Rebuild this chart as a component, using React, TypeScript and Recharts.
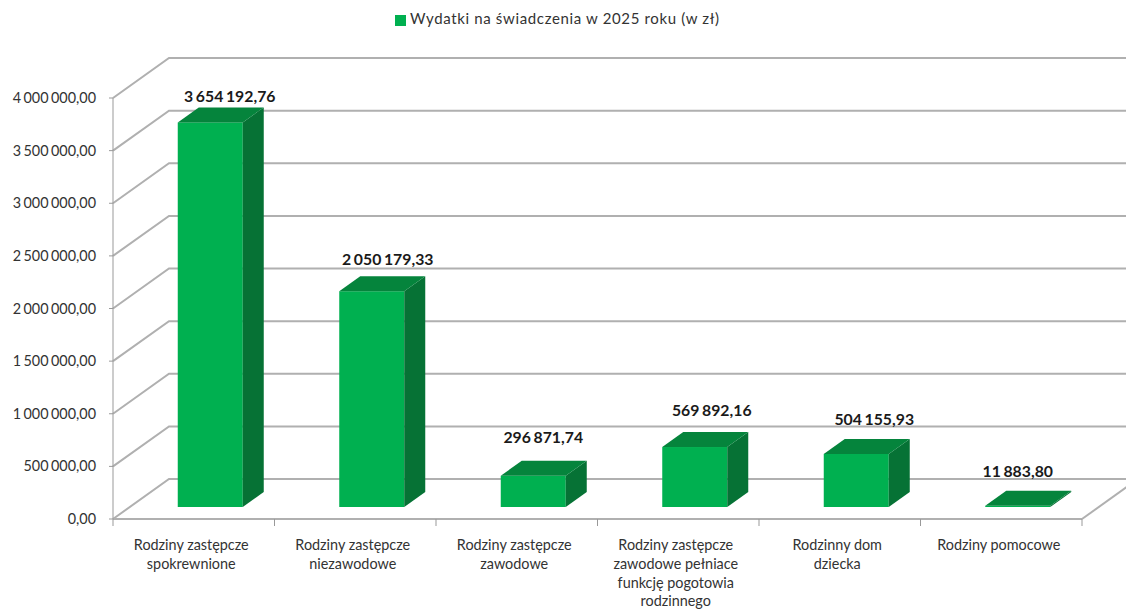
import { BarChart, Bar, XAxis, YAxis, CartesianGrid, Legend, LabelList } from "recharts";

const categories = [
  "Rodziny zastępcze\nspokrewnione",
  "Rodziny zastępcze\nniezawodowe",
  "Rodziny zastępcze\nzawodowe",
  "Rodziny zastępcze\nzawodowe pełniace\nfunkcję pogotowia\nrodzinnego",
  "Rodzinny dom\ndziecka",
  "Rodziny pomocowe",
];
const expenses = [3654192.76, 2050179.33, 296871.74, 569892.16, 504155.93, 11883.8];
const valueTicks = [0, 500000, 1000000, 1500000, 2000000, 2500000, 3000000, 3500000, 4000000];
const seriesName = "Wydatki na świadczenia w 2025 roku (w zł)";

// label placement was done by hand in the original chart
const labelShiftX = [19.5, 16, 10, 17, 18, 0];
const labelGapY = [10, 16, 23, 21, 19, 19];

const data = categories.map((name, i) => ({ name, value: expenses[i] }));

const WIDTH = 1126;
const HEIGHT = 610;
const FONT = "Lato, sans-serif";
const GRID = "#b0b0b0";
const WALL_DX = 56;
const WALL_DY = -40;
const BAR_DX = 16.75;
const BAR_DY = -12;
const DEPTH_X = 21;
const DEPTH_Y = -15;
const PLOT_BOTTOM = 519;
const STEP = 969 / categories.length;

const formatPl = (v: number) =>
  v.toFixed(2).replace(".", ",").replace(/\B(?=(\d{3})+(?!\d))/g, " ");

function WallLine({ x1, y1, x2 }: any) {
  const isFloor = Math.abs(y1 - PLOT_BOTTOM) < 1;
  return (
    <g key={y1} fill="none" stroke={GRID}>
      <polyline
        points={`${x1},${y1} ${x1 + WALL_DX},${y1 + WALL_DY} ${x2 + WALL_DX},${y1 + WALL_DY}`}
        strokeWidth={2}
      />
      {isFloor && (
        <line x1={x2} y1={y1} x2={x2 + WALL_DX} y2={y1 + WALL_DY} strokeWidth={2} />
      )}
    </g>
  );
}

function Box3D({ x, y, width, height }: any) {
  const l = x + BAR_DX;
  const r = l + width;
  const t = y + BAR_DY;
  const b = t + height;
  return (
    <g>
      <rect x={l} y={t} width={width} height={height} fill="#00b050" />
      <polygon
        points={`${r},${t} ${r + DEPTH_X},${t + DEPTH_Y} ${r + DEPTH_X},${b + DEPTH_Y} ${r},${b}`}
        fill="#067235"
      />
      <polygon
        points={`${l},${t} ${l + DEPTH_X},${t + DEPTH_Y} ${r + DEPTH_X},${t + DEPTH_Y} ${r},${t}`}
        fill="#05843c"
      />
    </g>
  );
}

function CategoryTick({ x, payload, index }: any) {
  const lines = String(payload.value).split("\n");
  const edge = x - STEP / 2;
  return (
    <g>
      <line x1={edge} y1={PLOT_BOTTOM} x2={edge} y2={PLOT_BOTTOM + 7} stroke="#999" />
      {index === categories.length - 1 && (
        <line x1={edge + STEP} y1={PLOT_BOTTOM} x2={edge + STEP} y2={PLOT_BOTTOM + 7} stroke="#999" />
      )}
      <text textAnchor="middle" fontFamily={FONT} fontSize={14.4} fill="#333">
        {lines.map((line, i) => (
          <tspan key={i} x={x - 2.5} y={550 + i * 18.8}>
            {line}
          </tspan>
        ))}
      </text>
    </g>
  );
}

function ValueLabel({ x, y, width, value, index }: any) {
  return (
    <text
      x={x + BAR_DX + width / 2 + labelShiftX[index]}
      y={y + BAR_DY + DEPTH_Y - labelGapY[index] + 5}
      textAnchor="middle"
      fontFamily={FONT}
      fontSize={15.8}
      fontWeight={700}
      wordSpacing={-1.2}
      fill="#1a1a1a"
    >
      {formatPl(Number(value))}
    </text>
  );
}

export default function App() {
  return (
    <div style={{ position: "absolute", left: 0, top: 0, width: WIDTH, height: HEIGHT, background: "#fff" }}>
      <BarChart
        width={WIDTH}
        height={HEIGHT}
        data={data}
        margin={{ top: 80, right: 44, bottom: 0, left: 0 }}
      >
        <CartesianGrid horizontal={WallLine} vertical={false} />
        <XAxis
          dataKey="name"
          height={91}
          interval={0}
          tickLine={false}
          axisLine={{ stroke: GRID, strokeWidth: 2 }}
          tick={CategoryTick}
        />
        <YAxis
          width={113}
          domain={[0, 4000000]}
          ticks={valueTicks}
          tickFormatter={formatPl}
          tickSize={4}
          tickMargin={13}
          interval={0}
          axisLine={{ stroke: "#999" }}
          tickLine={{ stroke: "#999" }}
          tick={{ fontFamily: FONT, fontSize: 14.4, fill: "#333", wordSpacing: -1.2 }}
        />
        <Legend
          verticalAlign="top"
          align="left"
          iconType="square"
          iconSize={11}
          wrapperStyle={{ position: "absolute", top: 9, left: 395, width: 345, fontFamily: FONT, fontSize: 15, color: "#333" }}
          formatter={(v: string) => <span style={{ color: "#333", letterSpacing: 0.65 }}>{v}</span>}
        />
        <Bar
          dataKey="value"
          name={seriesName}
          fill="#00b050"
          barSize={65}
          shape={Box3D}
          isAnimationActive={false}
        >
          <LabelList dataKey="value" content={ValueLabel} />
        </Bar>
      </BarChart>
    </div>
  );
}
